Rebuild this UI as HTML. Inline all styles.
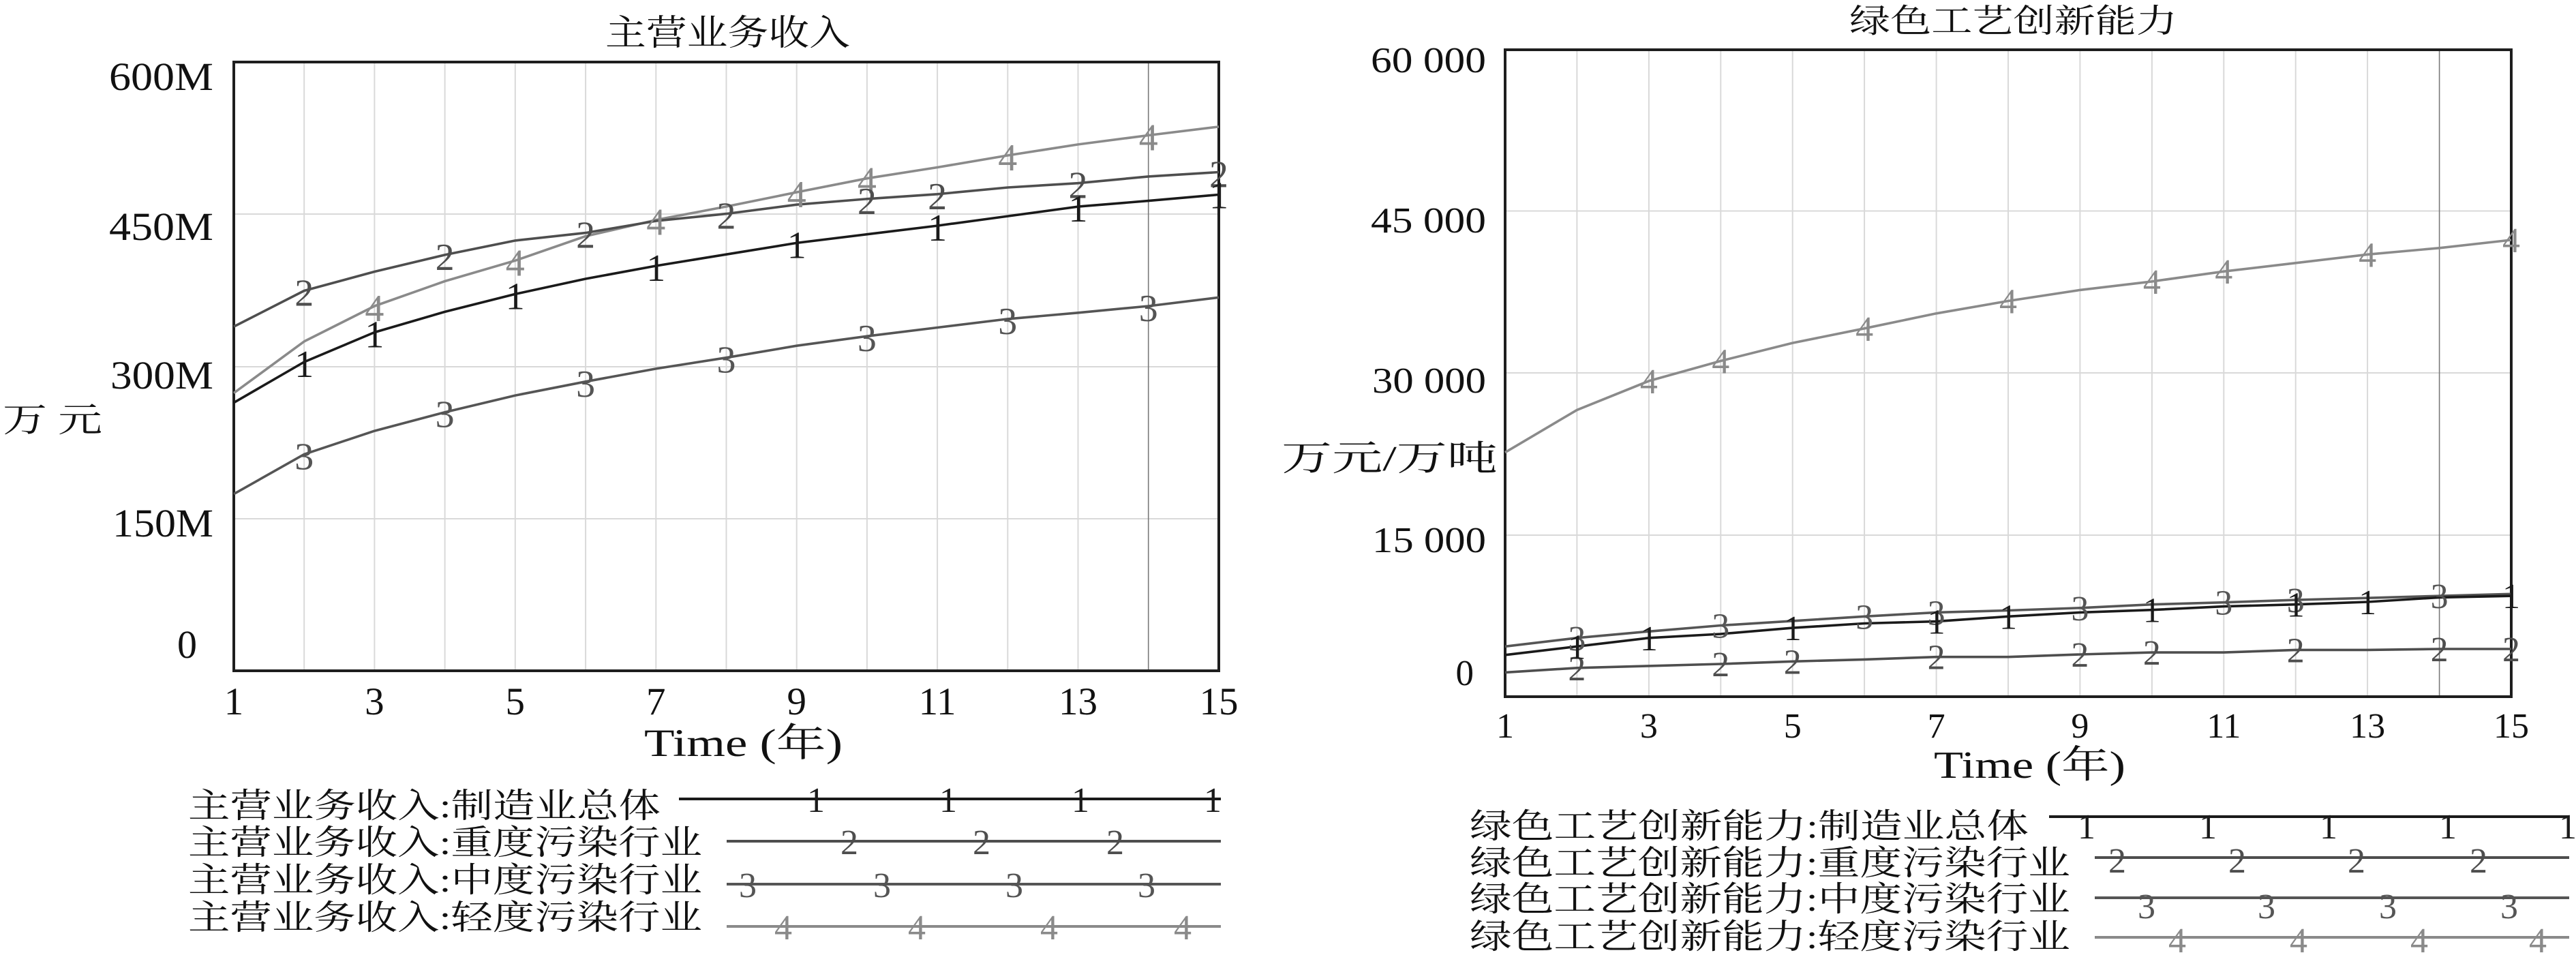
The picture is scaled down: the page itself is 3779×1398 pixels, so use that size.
<!DOCTYPE html>
<html>
<head>
<meta charset="utf-8">
<style>
html,body{margin:0;padding:0;background:#fff;}
svg{display:block;}
.lat{font-family:"Liberation Serif","Noto Serif CJK SC",serif;}
.cjk{font-family:"Liberation Serif","Noto Serif CJK SC","Noto Sans CJK SC",serif;}
</style>
</head>
<body>
<svg width="3779" height="1398" viewBox="0 0 3779 1398" xmlns="http://www.w3.org/2000/svg">
<rect x="0" y="0" width="3779" height="1398" fill="#fff"/>

<!-- ================= LEFT CHART ================= -->
<!-- gridlines -->
<g stroke="#d9d9d9" stroke-width="2" fill="none">
  <line x1="446.2" y1="91" x2="446.2" y2="984"/>
  <line x1="549.4" y1="91" x2="549.4" y2="984"/>
  <line x1="652.6" y1="91" x2="652.6" y2="984"/>
  <line x1="755.8" y1="91" x2="755.8" y2="984"/>
  <line x1="859.1" y1="91" x2="859.1" y2="984"/>
  <line x1="962.3" y1="91" x2="962.3" y2="984"/>
  <line x1="1065.5" y1="91" x2="1065.5" y2="984"/>
  <line x1="1168.7" y1="91" x2="1168.7" y2="984"/>
  <line x1="1271.9" y1="91" x2="1271.9" y2="984"/>
  <line x1="1375.1" y1="91" x2="1375.1" y2="984"/>
  <line x1="1478.3" y1="91" x2="1478.3" y2="984"/>
  <line x1="1581.5" y1="91" x2="1581.5" y2="984"/>
  <line x1="343" y1="314" x2="1788" y2="314"/>
  <line x1="343" y1="538" x2="1788" y2="538"/>
  <line x1="343" y1="761" x2="1788" y2="761"/>
</g>
<line x1="1684.7" y1="91" x2="1684.7" y2="984" stroke="#7a7a7a" stroke-width="1.6"/>
<rect x="343" y="91" width="1445" height="893" fill="none" stroke="#1e1e1e" stroke-width="4"/>

<!-- series -->
<g fill="none" stroke-width="3.6" stroke-linejoin="round">
  <polyline stroke="#8a8a8a" points="343,576.6 446.2,500.9 549.4,449 652.6,412.5 755.8,382.3 859.1,346.5 962.3,322.7 1065.5,303 1168.7,282 1271.9,261.7 1375.1,245.5 1478.3,228 1581.5,211.9 1684.7,198.5 1788,185.9"/>
  <polyline stroke="#4e4e4e" points="343,479.1 446.2,426.5 549.4,398.5 652.6,373.9 755.8,352.9 859.1,341.6 962.3,324.1 1065.5,313.6 1168.7,300.2 1271.9,291.8 1375.1,284.8 1478.3,275 1581.5,268.7 1684.7,258.9 1788,252.5"/>
  <polyline stroke="#555555" points="343,724.7 446.2,666.4 549.4,632.1 652.6,604.7 755.8,580.1 859.1,559.8 962.3,540.9 1065.5,524.7 1168.7,507.2 1271.9,493.2 1375.1,480.5 1478.3,467.9 1581.5,458.8 1684.7,449 1788,436.3"/>
  <polyline stroke="#1a1a1a" points="343,590.7 446.2,531 549.4,487.5 652.6,457.4 755.8,431.4 859.1,409 962.3,390 1065.5,373.2 1168.7,356.4 1271.9,343.7 1375.1,331.1 1478.3,317.1 1581.5,303.1 1684.7,294.6 1788,285.5"/>
</g>

<!-- markers -->
<g class="lat" font-size="56" text-anchor="middle">
  <g fill="#8a8a8a">
    <text x="549.4" y="471">4</text><text x="755.8" y="404.3">4</text><text x="962.3" y="344.7">4</text>
    <text x="1168.7" y="304">4</text><text x="1271.9" y="283.7">4</text><text x="1478.3" y="250">4</text>
    <text x="1684.7" y="220.5">4</text>
  </g>
  <g fill="#4e4e4e">
    <text x="446.2" y="448.5">2</text><text x="652.6" y="395.9">2</text><text x="859.1" y="363.6">2</text>
    <text x="1065.5" y="335.6">2</text><text x="1271.9" y="313.8">2</text><text x="1375.1" y="306.8">2</text>
    <text x="1581.5" y="290.7">2</text><text x="1788" y="274.5">2</text>
  </g>
  <g fill="#555555">
    <text x="446.2" y="688.4">3</text><text x="652.6" y="626.7">3</text><text x="859.1" y="581.8">3</text>
    <text x="1065.5" y="546.7">3</text><text x="1271.9" y="515.2">3</text><text x="1478.3" y="489.9">3</text>
    <text x="1684.7" y="471">3</text>
  </g>
  <g fill="#1a1a1a">
    <text x="446.2" y="553">1</text><text x="549.4" y="509.5">1</text><text x="755.8" y="453.4">1</text>
    <text x="962.3" y="412">1</text><text x="1168.7" y="378.4">1</text><text x="1375.1" y="353.1">1</text>
    <text x="1581.5" y="325.1">1</text><text x="1788" y="305.5">1</text>
  </g>
</g>

<!-- title -->
<text class="cjk" x="888" y="66" font-size="52" textLength="359" lengthAdjust="spacingAndGlyphs" fill="#111">主营业务收入</text>

<!-- y tick labels -->
<g class="lat" font-size="58" fill="#111" text-anchor="end">
  <text x="313" y="132" textLength="153" lengthAdjust="spacingAndGlyphs">600M</text>
  <text x="313" y="352" textLength="153" lengthAdjust="spacingAndGlyphs">450M</text>
  <text x="313" y="570" textLength="151" lengthAdjust="spacingAndGlyphs">300M</text>
  <text x="313" y="787" textLength="148" lengthAdjust="spacingAndGlyphs">150M</text>
  <text x="289" y="965">0</text>
</g>
<text class="cjk" x="4" y="633" font-size="50" textLength="146" lengthAdjust="spacingAndGlyphs" fill="#111">万 元</text>

<!-- x tick labels -->
<g class="lat" font-size="57" fill="#111" text-anchor="middle">
  <text x="343" y="1048">1</text><text x="549.4" y="1048">3</text><text x="755.8" y="1048">5</text>
  <text x="962.3" y="1048">7</text><text x="1168.7" y="1048">9</text><text x="1375.1" y="1048">11</text>
  <text x="1581.5" y="1048">13</text><text x="1788" y="1048">15</text>
</g>
<text class="cjk" x="945" y="1109" font-size="57" textLength="291" lengthAdjust="spacingAndGlyphs" fill="#111">Time (年)</text>

<!-- legend left -->
<g class="cjk" font-size="50" fill="#111">
  <text x="276" y="1199" textLength="693" lengthAdjust="spacingAndGlyphs">主营业务收入:制造业总体</text>
  <text x="276" y="1253" textLength="754" lengthAdjust="spacingAndGlyphs">主营业务收入:重度污染行业</text>
  <text x="276" y="1308" textLength="754" lengthAdjust="spacingAndGlyphs">主营业务收入:中度污染行业</text>
  <text x="276" y="1363" textLength="754" lengthAdjust="spacingAndGlyphs">主营业务收入:轻度污染行业</text>
</g>
<g stroke-width="4">
  <line x1="996" y1="1172" x2="1791" y2="1172" stroke="#1a1a1a"/>
  <line x1="1066" y1="1234" x2="1791" y2="1234" stroke="#4e4e4e"/>
  <line x1="1066" y1="1297" x2="1791" y2="1297" stroke="#555555"/>
  <line x1="1066" y1="1359" x2="1791" y2="1359" stroke="#8a8a8a"/>
</g>
<g class="lat" font-size="52" text-anchor="middle">
  <g fill="#1a1a1a"><text x="1197" y="1191">1</text><text x="1391" y="1191">1</text><text x="1585" y="1191">1</text><text x="1779" y="1191">1</text></g>
  <g fill="#4e4e4e"><text x="1246" y="1253">2</text><text x="1440" y="1253">2</text><text x="1636" y="1253">2</text></g>
  <g fill="#555555"><text x="1097" y="1316">3</text><text x="1294" y="1316">3</text><text x="1488" y="1316">3</text><text x="1682" y="1316">3</text></g>
  <g fill="#8a8a8a"><text x="1149" y="1378">4</text><text x="1345" y="1378">4</text><text x="1539" y="1378">4</text><text x="1735" y="1378">4</text></g>
</g>

<!-- ================= RIGHT CHART ================= -->
<g stroke="#d9d9d9" stroke-width="2" fill="none">
  <line x1="2313.4" y1="73" x2="2313.4" y2="1022"/>
  <line x1="2418.9" y1="73" x2="2418.9" y2="1022"/>
  <line x1="2524.3" y1="73" x2="2524.3" y2="1022"/>
  <line x1="2629.7" y1="73" x2="2629.7" y2="1022"/>
  <line x1="2735.1" y1="73" x2="2735.1" y2="1022"/>
  <line x1="2840.6" y1="73" x2="2840.6" y2="1022"/>
  <line x1="2946" y1="73" x2="2946" y2="1022"/>
  <line x1="3051.4" y1="73" x2="3051.4" y2="1022"/>
  <line x1="3156.9" y1="73" x2="3156.9" y2="1022"/>
  <line x1="3262.3" y1="73" x2="3262.3" y2="1022"/>
  <line x1="3367.7" y1="73" x2="3367.7" y2="1022"/>
  <line x1="3473.1" y1="73" x2="3473.1" y2="1022"/>
  <line x1="2208" y1="309.5" x2="3684" y2="309.5"/>
  <line x1="2208" y1="547" x2="3684" y2="547"/>
  <line x1="2208" y1="785" x2="3684" y2="785"/>
</g>
<line x1="3578.6" y1="73" x2="3578.6" y2="1022" stroke="#7a7a7a" stroke-width="1.6"/>
<rect x="2208" y="73" width="1476" height="949" fill="none" stroke="#1e1e1e" stroke-width="4"/>

<g fill="none" stroke-width="3.6" stroke-linejoin="round">
  <polyline stroke="#8a8a8a" points="2208,663.7 2313.4,601.4 2418.9,558.9 2524.3,529.5 2629.7,503.1 2735.1,481.8 2840.6,459.8 2946,441.5 3051.4,425.4 3156.9,412.9 3262.3,398.2 3367.7,385.8 3473.1,373.3 3578.6,363.8 3684,352"/>
  <polyline stroke="#4e4e4e" points="2208,986.4 2313.4,979.8 2418.9,976.9 2524.3,974 2629.7,970.3 2735.1,967.4 2840.6,963.7 2946,963.7 3051.4,960 3156.9,957.1 3262.3,957.1 3367.7,953.4 3473.1,953.4 3578.6,952 3684,952"/>
  <polyline stroke="#555555" points="2208,948.3 2313.4,935.8 2418.9,926.3 2524.3,917.5 2629.7,910.9 2735.1,904.3 2840.6,898.4 2946,895.5 3051.4,891.8 3156.9,886.7 3262.3,883.7 3367.7,880.1 3473.1,877.2 3578.6,874.2 3684,871.3"/>
  <polyline stroke="#1a1a1a" points="2208,960.8 2313.4,948.3 2418.9,935.8 2524.3,930 2629.7,921.1 2735.1,914.5 2840.6,911.6 2946,904.3 3051.4,898.4 3156.9,894.7 3262.3,889.6 3367.7,886.7 3473.1,883 3578.6,876.4 3684,874.2"/>
</g>

<g class="lat" font-size="52" text-anchor="middle">
  <g fill="#8a8a8a">
    <text x="2418.9" y="576.9">4</text><text x="2524.3" y="547.5">4</text><text x="2735.1" y="499.8">4</text>
    <text x="2946" y="459.5">4</text><text x="3156.9" y="430.9">4</text><text x="3262.3" y="416.2">4</text>
    <text x="3473.1" y="391.3">4</text><text x="3684" y="370">4</text>
  </g>
  <g fill="#555555">
    <text x="2313.4" y="953.8">3</text><text x="2524.3" y="935.5">3</text><text x="2735.1" y="922.3">3</text>
    <text x="2840.6" y="916.4">3</text><text x="3051.4" y="909.8">3</text><text x="3262.3" y="901.7">3</text>
    <text x="3367.7" y="898.1">3</text><text x="3578.6" y="892.2">3</text>
  </g>
  <g fill="#4e4e4e">
    <text x="2313.4" y="997.8">2</text><text x="2524.3" y="992">2</text><text x="2629.7" y="988.3">2</text>
    <text x="2840.6" y="981.7">2</text><text x="3051.4" y="978">2</text><text x="3156.9" y="975.1">2</text>
    <text x="3367.7" y="971.4">2</text><text x="3578.6" y="970">2</text><text x="3684" y="970">2</text>
  </g>
  <g fill="#1a1a1a">
    <text x="2313.4" y="966.3">1</text><text x="2418.9" y="953.8">1</text><text x="2629.7" y="939.1">1</text>
    <text x="2840.6" y="929.6">1</text><text x="2946" y="922.3">1</text><text x="3156.9" y="912.7">1</text>
    <text x="3367.7" y="904.7">1</text><text x="3473.1" y="901">1</text><text x="3684" y="892.2">1</text>
  </g>
</g>

<text class="cjk" x="2713" y="47" font-size="48" textLength="481" lengthAdjust="spacingAndGlyphs" fill="#111">绿色工艺创新能力</text>

<g class="lat" font-size="53" fill="#111" text-anchor="end">
  <text x="2180" y="106" textLength="169" lengthAdjust="spacingAndGlyphs">60 000</text>
  <text x="2180" y="341" textLength="169" lengthAdjust="spacingAndGlyphs">45 000</text>
  <text x="2180" y="576" textLength="167" lengthAdjust="spacingAndGlyphs">30 000</text>
  <text x="2180" y="810" textLength="167" lengthAdjust="spacingAndGlyphs">15 000</text>
  <text x="2162" y="1005">0</text>
</g>
<text class="cjk" x="1880" y="690" font-size="52" textLength="317" lengthAdjust="spacingAndGlyphs" fill="#111">万元/万吨</text>

<g class="lat" font-size="52" fill="#111" text-anchor="middle">
  <text x="2208" y="1082">1</text><text x="2418.9" y="1082">3</text><text x="2629.7" y="1082">5</text>
  <text x="2840.6" y="1082">7</text><text x="3051.4" y="1082">9</text><text x="3262.3" y="1082">11</text>
  <text x="3473.1" y="1082">13</text><text x="3684" y="1082">15</text>
</g>
<text class="cjk" x="2837" y="1141" font-size="56" textLength="281" lengthAdjust="spacingAndGlyphs" fill="#111">Time (年)</text>

<g class="cjk" font-size="50" fill="#111">
  <text x="2156" y="1229" textLength="820" lengthAdjust="spacingAndGlyphs">绿色工艺创新能力:制造业总体</text>
  <text x="2156" y="1283" textLength="881" lengthAdjust="spacingAndGlyphs">绿色工艺创新能力:重度污染行业</text>
  <text x="2156" y="1336" textLength="881" lengthAdjust="spacingAndGlyphs">绿色工艺创新能力:中度污染行业</text>
  <text x="2156" y="1391" textLength="881" lengthAdjust="spacingAndGlyphs">绿色工艺创新能力:轻度污染行业</text>
</g>
<g stroke-width="4">
  <line x1="3006" y1="1198" x2="3769" y2="1198" stroke="#1a1a1a"/>
  <line x1="3073" y1="1258" x2="3769" y2="1258" stroke="#4e4e4e"/>
  <line x1="3073" y1="1317" x2="3769" y2="1317" stroke="#555555"/>
  <line x1="3073" y1="1375" x2="3769" y2="1375" stroke="#8a8a8a"/>
</g>
<g class="lat" font-size="52" text-anchor="middle">
  <g fill="#1a1a1a"><text x="3061" y="1230">1</text><text x="3239" y="1230">1</text><text x="3416" y="1230">1</text><text x="3591" y="1230">1</text><text x="3767" y="1230">1</text></g>
  <g fill="#4e4e4e"><text x="3106" y="1280">2</text><text x="3282" y="1280">2</text><text x="3457" y="1280">2</text><text x="3636" y="1280">2</text></g>
  <g fill="#555555"><text x="3149" y="1347">3</text><text x="3325" y="1347">3</text><text x="3503" y="1347">3</text><text x="3681" y="1347">3</text></g>
  <g fill="#8a8a8a"><text x="3194" y="1397">4</text><text x="3372" y="1397">4</text><text x="3549" y="1397">4</text><text x="3723" y="1397">4</text></g>
</g>
</svg>
</body>
</html>
